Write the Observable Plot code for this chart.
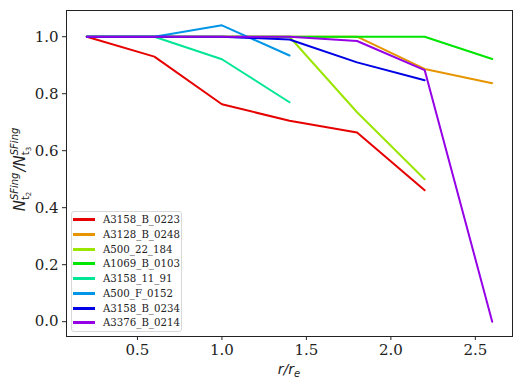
<!DOCTYPE html>
<html><head><meta charset="utf-8">
<script src="https://cdn.jsdelivr.net/npm/d3@7"></script>
<script src="https://cdn.jsdelivr.net/npm/@observablehq/plot@0.6"></script>
<style>
body{margin:0;background:#fff;}
#wrap{position:relative;width:522px;height:385px;}
#legend{position:absolute;left:71px;top:211px;width:111px;height:121px;border:1px solid #d8d8d8;border-radius:3px;background:rgba(255,255,255,0.85);box-sizing:border-box;font-family:"DejaVu Serif",serif;font-size:10.2px;color:#222;}
.row{position:absolute;left:1px;height:14px;display:flex;align-items:center;white-space:nowrap;}
.sw{width:22px;height:3px;margin-right:8px;}
</style></head><body>
<div id="wrap"></div>
<script>
const rValues = [0.2, 0.6, 1.0, 1.4, 1.8, 2.2, 2.6];
const names = ["A3158_B_0223","A3128_B_0248","A500_22_184","A1069_B_0103","A3158_11_91","A500_F_0152","A3158_B_0234","A3376_B_0214"];
const colors = ["#e60000","#e69500","#9be600","#00e600","#00e695","#0095e6","#0000e6","#9500e6"];
const s_A3158_B_0223 = [1.0, 0.930, 0.763, 0.705, 0.664, 0.461];
const s_A3128_B_0248 = [1.0, 1.0, 1.0, 1.0, 1.0, 0.887, 0.837];
const s_A500_22_184 = [1.0, 1.0, 1.0, 1.0, 0.735, 0.500];
const s_A1069_B_0103 = [1.0, 1.0, 1.0, 1.0, 1.0, 1.0, 0.922];
const s_A3158_11_91 = [1.0, 1.0, 0.921, 0.770];
const s_A500_F_0152 = [1.0, 1.0, 1.040, 0.934];
const s_A3158_B_0234 = [1.0, 1.0, 1.0, 0.990, 0.910, 0.847];
const s_A3376_B_0214 = [1.0, 1.0, 1.0, 1.0, 0.985, 0.883, 0.0];
const xTicks = [0.5, 1.0, 1.5, 2.0, 2.5];
const yTicks = [0.0, 0.2, 0.4, 0.6, 0.8, 1.0];

const seriesList = [s_A3158_B_0223,s_A3128_B_0248,s_A500_22_184,s_A1069_B_0103,s_A3158_11_91,s_A500_F_0152,s_A3158_B_0234,s_A3376_B_0214];
const rows = [];
seriesList.forEach((s,i)=>s.forEach((v,j)=>rows.push({name:names[i], r:rValues[j], v})));

const chart = Plot.plot({
  width: 522, height: 385,
  marginLeft: 66, marginRight: 10, marginTop: 10, marginBottom: 49,
  style: {fontFamily: "'DejaVu Serif', serif", fontSize: "15px", color: "#222", background: "#fff"},
  x: {domain: [0.08, 2.72], ticks: xTicks, tickFormat: d3.format(".1f"), tickSize: 4, tickPadding: 4, label: null},
  y: {domain: [-0.052, 1.092], ticks: yTicks, tickFormat: d3.format(".1f"), tickSize: 4, tickPadding: 4, label: null},
  color: {domain: names, range: colors},
  marks: [
    Plot.line(rows, {x: "r", y: "v", z: "name", stroke: "name", strokeWidth: 2}),
    Plot.frame({stroke: "#222", strokeWidth: 1})
  ]
});
const wrap = document.getElementById("wrap");
wrap.appendChild(chart);

const svg = d3.select(chart);
const sans = "'DejaVu Sans', sans-serif";
// x label
const xl = svg.append("text").attr("x", 289).attr("y", 374).attr("text-anchor","middle")
  .attr("font-family",sans).attr("font-size","14px").attr("font-style","italic").attr("fill","#222");
xl.append("tspan").text("r/r");
xl.append("tspan").attr("font-size","10px").attr("dy","3").text("e");

// y label: build horizontally, then rotate
const g = svg.append("g").attr("fill","#222").attr("font-family",sans).attr("text-anchor","start");
let cx = 0;
function piece(txt, size, dy, italic){
  const t = g.append("text").attr("x", cx).attr("y", dy).attr("font-size", size+"px")
    .attr("text-anchor","start")
    .attr("font-style", italic ? "italic" : "normal").text(txt);
  return t.node().getComputedTextLength();
}
function group(k){
  const wN = piece("N", 15, 0, true); cx += wN;
  const start = cx;
  const wS = piece("SFing", 10, -7, true);
  const wt = piece("t", 10, 4, false);
  cx += wt;
  const w2 = piece(String(k), 7, 6, false);
  cx = start + Math.max(wS, wt + w2) + 1;
}
group(2);
const wsl = piece("/", 15, 0, true); cx += wsl;
group(3);
const total = cx;
g.attr("transform", `translate(25,${169 + total/2}) rotate(-90)`);

// legend
const lg = document.createElement("div"); lg.id = "legend";
names.forEach((n,i)=>{
  const r = document.createElement("div"); r.className="row"; r.style.top = Math.round(0 + i*14.77) + "px";
  const sw = document.createElement("div"); sw.className="sw"; sw.style.background = colors[i];
  const t = document.createElement("span"); t.textContent = n;
  r.appendChild(sw); r.appendChild(t); lg.appendChild(r);
});
wrap.appendChild(lg);
</script>
</body></html>
